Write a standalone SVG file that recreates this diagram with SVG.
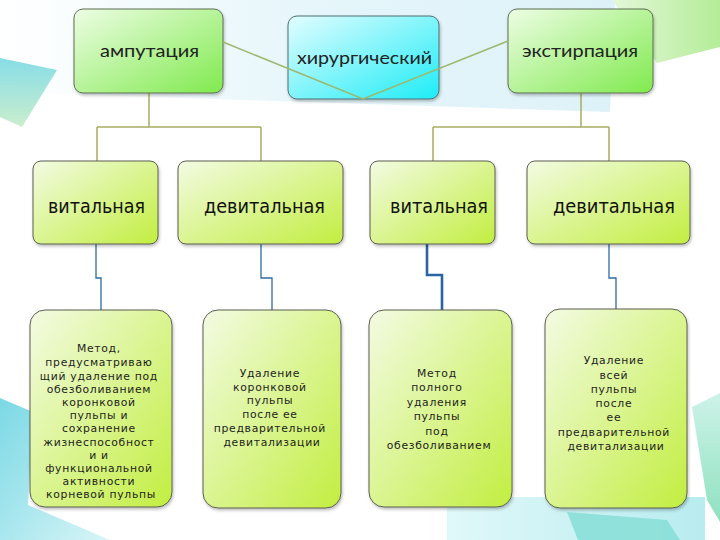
<svg xmlns="http://www.w3.org/2000/svg" width="720" height="540" viewBox="0 0 720 540">
  <defs>
    <linearGradient id="gTop" x1="0" y1="0" x2="1" y2="1">
      <stop offset="0" stop-color="#edfde4"/>
      <stop offset="1" stop-color="#80ea4e"/>
    </linearGradient>
    <linearGradient id="gCenter" x1="0" y1="0" x2="1" y2="1">
      <stop offset="0" stop-color="#e2fdff"/>
      <stop offset="1" stop-color="#1eecf6"/>
    </linearGradient>
    <linearGradient id="gMid" x1="0" y1="0" x2="1" y2="1">
      <stop offset="0" stop-color="#f3fbe3"/>
      <stop offset="1" stop-color="#c2ee40"/>
    </linearGradient>
    <linearGradient id="gBand" x1="0" y1="0" x2="1" y2="0">
      <stop offset="0" stop-color="#ffffff"/>
      <stop offset="0.5" stop-color="#e6f6fb"/>
      <stop offset="1" stop-color="#ddf2f8"/>
    </linearGradient>
    <linearGradient id="gTR" x1="0" y1="0" x2="1" y2="0">
      <stop offset="0" stop-color="#e4f8da"/>
      <stop offset="1" stop-color="#b4ec98"/>
    </linearGradient>
    <linearGradient id="gTL" x1="0" y1="0" x2="0" y2="1">
      <stop offset="0" stop-color="#7ad9e4"/>
      <stop offset="1" stop-color="#c4ecc8"/>
    </linearGradient>
    <linearGradient id="gBL" x1="0" y1="0" x2="1" y2="1">
      <stop offset="0" stop-color="#6cd4e2"/>
      <stop offset="1" stop-color="#d4f4f6"/>
    </linearGradient>
    <linearGradient id="gBR" x1="0" y1="0" x2="1" y2="0">
      <stop offset="0" stop-color="#e0f8f9"/>
      <stop offset="1" stop-color="#b8ecef"/>
    </linearGradient>
    <linearGradient id="gRS" x1="0" y1="0" x2="0" y2="1">
      <stop offset="0" stop-color="#c4f0e4"/>
      <stop offset="1" stop-color="#7cdcb4"/>
    </linearGradient>
    <filter id="sh" x="-10%" y="-10%" width="125%" height="125%">
      <feDropShadow dx="1" dy="2" stdDeviation="1.5" flood-color="#000" flood-opacity="0.25"/>
    </filter>
  </defs>
  <style>
    .top { fill: url(#gTop); stroke: #5e6e55; stroke-width: 1; filter: url(#sh); }
    .ctr { fill: url(#gCenter); stroke: #4f6f72; stroke-width: 1; filter: url(#sh); }
    .mid { fill: url(#gMid); stroke: #5a5f50; stroke-width: 1; filter: url(#sh); }
    .tt { font-family: Lato, "DejaVu Sans", sans-serif; font-size: 18px; fill: #222; }
    .lbl { font-family: "DejaVu Sans", sans-serif; font-size: 19px; fill: #111; }
    .desc { font-family: "DejaVu Sans", sans-serif; font-size: 10.8px; letter-spacing: 0.7px; fill: #1e1e1e; text-anchor: middle; }
    .olive { fill: none; stroke: #a9ad60; stroke-width: 1.5; }
    .diag { fill: none; stroke: #9cb86c; stroke-width: 1.5; }
    .blue { fill: none; stroke: #2f6aa6; stroke-width: 1.3; }
    .blueb { fill: none; stroke: #2a64a2; stroke-width: 2.6; }
  </style>

  <!-- background -->
  <rect x="0" y="0" width="720" height="540" fill="#ffffff"/>
  <polygon points="0,0 615,0 610,112 0,92" fill="url(#gBand)"/>
  <polygon points="612,0 720,0 720,47 657,63" fill="url(#gTR)"/>
  <polygon points="0,58 57,70 22,127 0,117" fill="url(#gTL)" opacity="0.9"/>
  <polygon points="0,398 33,412 28,505 110,540 0,540" fill="url(#gBL)" opacity="0.9"/>
  <polygon points="447,497 705,497 705,540 447,540" fill="url(#gBR)"/>
  <polygon points="567,512 667,520 680,540 578,540" fill="#86ded6" opacity="0.85"/>
  <polygon points="692,407 720,393 720,522 707,500" fill="url(#gRS)" opacity="0.85"/>

  <!-- connectors -->
  <g id="connectors">
    <path class="olive" d="M149,93 V127 M97,127 H261 M97,127 V161 M261,127 V161"/>
    <path class="olive" d="M581,93 V127 M433,127 H609 M433,127 V161 M609,127 V161"/>
    <path class="blue" d="M96,244 V278 H101 V310"/>
    <path class="blue" d="M261,244 V278 H272 V310"/>
    <path class="blueb" d="M427,244 V275 H442 V310"/>
    <path class="blue" d="M609,244 V278 H616 V310"/>
  </g>

  <!-- top row -->
  <g id="amputation">
    <rect class="top" x="74" y="9" width="149" height="84" rx="9"/>
    <text class="tt" x="100" y="57" textLength="99" lengthAdjust="spacingAndGlyphs">ампутация</text>
  </g>
  <g id="surgical">
    <rect class="ctr" x="288" y="16" width="151" height="83" rx="9"/>
    <text class="tt" x="297" y="64" textLength="135" lengthAdjust="spacingAndGlyphs">хирургический</text>
  </g>
  <g id="extirpation">
    <rect class="top" x="508" y="9" width="145" height="84" rx="9"/>
    <text class="tt" x="522" y="57" textLength="116" lengthAdjust="spacingAndGlyphs">экстирпация</text>
  </g>

  <g id="diagonals">
    <path class="diag" d="M223,42 L363,99 L508,41"/>
  </g>

  <!-- second row -->
  <g id="vital1">
    <rect class="mid" x="33" y="161" width="125" height="83" rx="8"/>
    <text class="lbl" x="48" y="213" textLength="97" lengthAdjust="spacingAndGlyphs">витальная</text>
  </g>
  <g id="devital1">
    <rect class="mid" x="178" y="161" width="165" height="83" rx="8"/>
    <text class="lbl" x="204" y="213" textLength="121" lengthAdjust="spacingAndGlyphs">девитальная</text>
  </g>
  <g id="vital2">
    <rect class="mid" x="370" y="161" width="125" height="83" rx="8"/>
    <text class="lbl" x="390" y="213" textLength="98" lengthAdjust="spacingAndGlyphs">витальная</text>
  </g>
  <g id="devital2">
    <rect class="mid" x="527" y="161" width="163" height="83" rx="8"/>
    <text class="lbl" x="553" y="213" textLength="122" lengthAdjust="spacingAndGlyphs">девитальная</text>
  </g>

  <!-- third row -->
  <g id="desc1">
    <rect class="mid" x="30" y="310" width="142" height="197" rx="15"/>
    <text class="desc">
      <tspan x="101" y="352">Метод,</tspan>
      <tspan x="101" y="366">предусматриваю</tspan>
      <tspan x="101" y="380">щий удаление под</tspan>
      <tspan x="101" y="393">обезболиванием</tspan>
      <tspan x="101" y="406">коронковой</tspan>
      <tspan x="101" y="419">пульпы и</tspan>
      <tspan x="101" y="432">сохранение</tspan>
      <tspan x="101" y="446">жизнеспособност</tspan>
      <tspan x="101" y="459">и и</tspan>
      <tspan x="101" y="472">функциональной</tspan>
      <tspan x="101" y="485">активности</tspan>
      <tspan x="101" y="498">корневой пульпы</tspan>
    </text>
  </g>
  <g id="desc2">
    <rect class="mid" x="203" y="310" width="138" height="198" rx="15"/>
    <text class="desc">
      <tspan x="272" y="377">Удаление</tspan>
      <tspan x="272" y="391">коронковой</tspan>
      <tspan x="272" y="404">пульпы</tspan>
      <tspan x="272" y="418">после ее</tspan>
      <tspan x="272" y="432">предварительной</tspan>
      <tspan x="272" y="446">девитализации</tspan>
    </text>
  </g>
  <g id="desc3">
    <rect class="mid" x="369" y="310" width="143" height="197" rx="15"/>
    <text class="desc">
      <tspan x="439" y="377">Метод</tspan>
      <tspan x="439" y="391">полного</tspan>
      <tspan x="439" y="406">удаления</tspan>
      <tspan x="439" y="420">пульпы</tspan>
      <tspan x="439" y="435">под</tspan>
      <tspan x="439" y="449">обезболиванием</tspan>
    </text>
  </g>
  <g id="desc4">
    <rect class="mid" x="545" y="309" width="142" height="199" rx="15"/>
    <text class="desc">
      <tspan x="616" y="364">Удаление</tspan>
      <tspan x="616" y="379">всей</tspan>
      <tspan x="616" y="393">пульпы</tspan>
      <tspan x="616" y="407">после</tspan>
      <tspan x="616" y="421">ее</tspan>
      <tspan x="616" y="436">предварительной</tspan>
      <tspan x="616" y="450">девитализации</tspan>
    </text>
  </g>
</svg>
